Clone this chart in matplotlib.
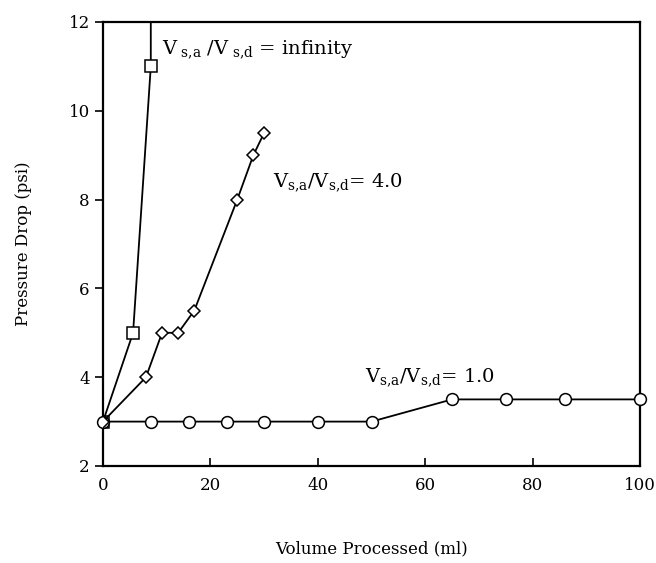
import matplotlib
matplotlib.use("Agg")
import matplotlib.pyplot as plt

# Data
inf_x = [0, 5.6, 8.9, 8.9]
inf_y = [3, 5, 11, 13]
r4_x = [0, 8, 11, 14, 17, 25, 28, 30]
r4_y = [3, 4, 5, 5, 5.5, 8, 9, 9.5]
r1_x = [0, 9, 16, 23, 30, 40, 50, 65, 75, 86, 100]
r1_y = [3, 3, 3, 3, 3, 3, 3, 3.5, 3.5, 3.5, 3.5]
xticks = [0, 20, 40, 60, 80, 100]
yticks = [2, 4, 6, 8, 10, 12]

plt.rcParams['font.family'] = ['DejaVu Serif']
plt.rcParams['mathtext.fontset'] = 'dejavuserif'

fig = plt.figure(figsize=(6.56, 5.63), dpi=100)
ax = fig.add_axes([103/656, 1-466/563, (640-103)/656, (466-22)/563])

ax.plot(r1_x, r1_y, color='black', lw=1.3, marker='o', ms=8.5, mfc='white',
        mec='black', mew=1.1, zorder=3, clip_on=False)
ax.plot(r4_x, r4_y, color='black', lw=1.3, marker='D', ms=6, mfc='white',
        mec='black', mew=1.1, zorder=4)
ax.plot(inf_x, inf_y, color='black', lw=1.3, marker='s', ms=8, mfc='white',
        mec='black', mew=1.1, markevery=[0, 1, 2], zorder=2)

ax.set_xlim(0, 100)
ax.set_ylim(2, 12)
ax.set_xticks(xticks)
ax.set_yticks(yticks)
ax.tick_params(axis='x', direction='in', length=6, width=1.2, labelsize=12, pad=8)
ax.tick_params(axis='y', direction='out', length=6, width=1.2, labelsize=12)
for s in ax.spines.values():
    s.set_linewidth(1.6)

ax.set_xlabel('Volume Processed (ml)', fontsize=12, labelpad=33)
ax.set_ylabel('Pressure Drop (psi)', fontsize=12, labelpad=26)

ax.text(11.0, 11.37, r'V$_{\rm\ s{,}a}$ /V$_{\rm\ s{,}d}$ = infinity', fontsize=14,
        va='center', ha='left')
ax.text(31.7, 8.37, r'V$_{\rm s{,}a}$/V$_{\rm s{,}d}$= 4.0', fontsize=14,
        va='center', ha='left')
ax.text(48.8, 3.98, r'V$_{\rm s{,}a}$/V$_{\rm s{,}d}$= 1.0', fontsize=14,
        va='center', ha='left')

fig.savefig('out.png', dpi=100)
